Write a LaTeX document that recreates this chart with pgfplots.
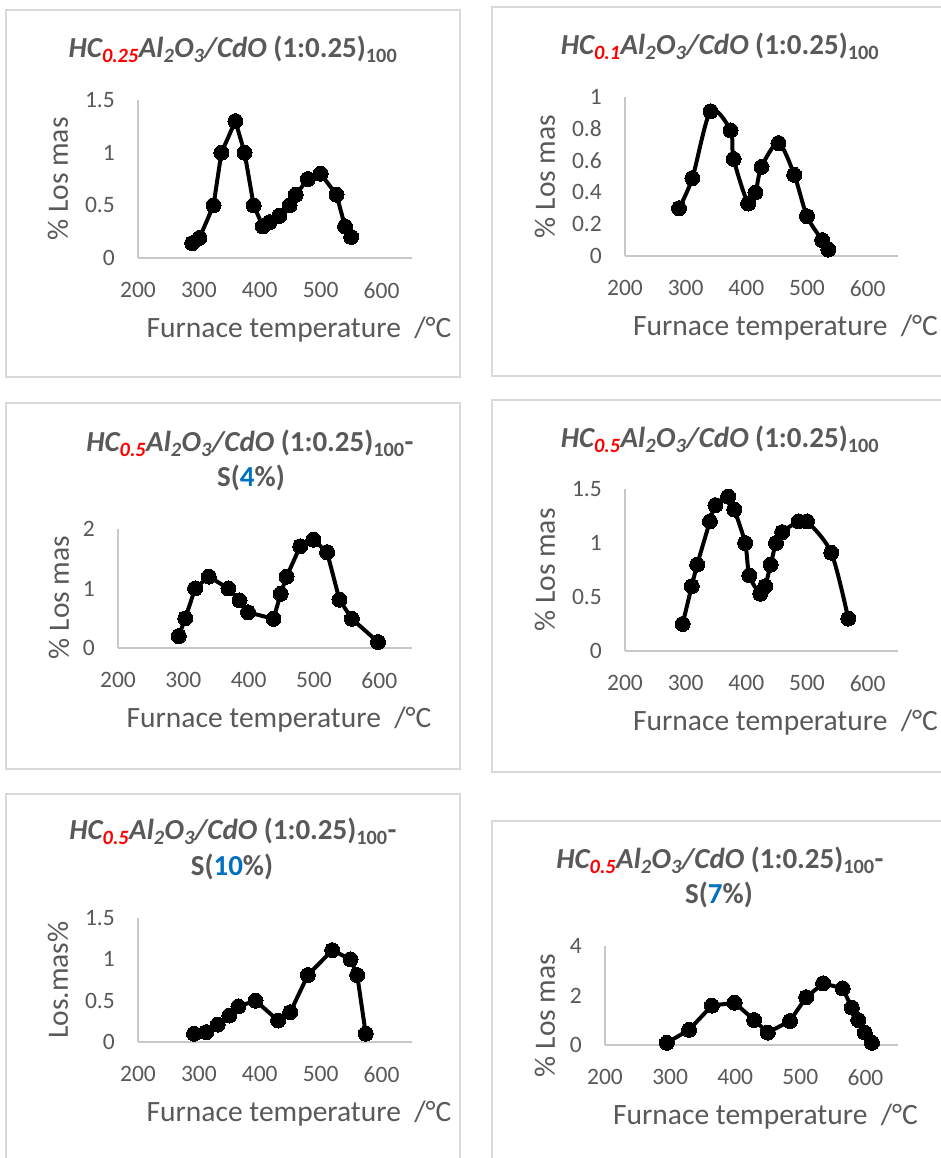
\documentclass[border=0pt]{standalone}
\usepackage{fontspec}
\setmainfont{Carlito}
\usepackage{pgfplots}
\pgfplotsset{compat=1.18}
\definecolor{txt}{HTML}{595959}
\definecolor{axg}{HTML}{C8C8C8}
\definecolor{frm}{HTML}{D9D9D9}
\definecolor{tred}{HTML}{FF0000}
\definecolor{tblue}{HTML}{0070C0}
\newcommand{\ttl}[1]{\textit{HC\textsubscript{\textcolor{tred}{#1}}Al\textsubscript{2}O\textsubscript{3}/CdO }(1:0.25)\textsubscript{100}}
\pgfplotsset{
 panel/.style={
  scale only axis, anchor=south west,
  axis lines*=left,
  axis line style={draw=axg, line width=1.5pt},
  xmin=200, xmax=650, ymin=0,
  xtick={200,300,400,500,600},
  major tick length=0pt,
  /pgf/number format/assume math mode=true,
  /pgf/number format/fixed,
  tick label style={font=\fontsize{23.5}{28}\selectfont, text=txt, inner sep=0pt},
  xticklabel style={anchor=north, yshift=-24pt},
  yticklabel style={anchor=east, xshift=-23pt},
  label style={font=\fontsize{29.5}{35}\selectfont, text=txt},
  xlabel={Furnace temperature\ \ /°C},
  clip=false,
 },
 curve/.style={black, line width=4pt, line join=round, mark=*, mark size=7.5pt, mark options={fill=black, draw=black, line width=0pt}},
}
\begin{document}
\begin{tikzpicture}[x=1pt,y=1pt]
\useasboundingbox (0,0) rectangle (940,1158);
\fill[white] (0,0) rectangle (940,1158);
% frames
\draw[frm, line width=1.5pt] (6,781) rectangle (460,1148);
\draw[frm, line width=1.5pt] (492,782) rectangle (948,1151);
\draw[frm, line width=1.5pt] (6,389) rectangle (460,755);
\draw[frm, line width=1.5pt] (492,386) rectangle (948,758);
\draw[frm, line width=1.5pt] (6,-10) rectangle (460,364);
\draw[frm, line width=1.5pt] (492,-10) rectangle (948,337);
% titles
\tikzset{tt/.style={anchor=base, text=txt, font=\fontsize{29}{35}\selectfont\bfseries, inner sep=0pt}}
\node[tt] at (233,1100) {\ttl{0.25}};
\node[tt] at (720,1103) {\ttl{0.1}};
\node[tt] at (250,706) {\ttl{0.5}-};
\node[tt] at (251,671) {S(\textcolor{tblue}{4}\%)};
\node[tt] at (720,710) {\ttl{0.5}};
\node[tt] at (233,318) {\ttl{0.5}-};
\node[tt] at (232,282) {S(\textcolor{tblue}{10}\%)};
\node[tt] at (720,289) {\ttl{0.5}-};
\node[tt] at (719,254) {S(\textcolor{tblue}{7}\%)};

% Panel 1
\begin{axis}[panel, at={(138pt,900pt)}, width=274pt, height=158pt, ymax=1.5, ytick={0,0.5,1,1.5},
  xlabel style={at={([xshift=24pt,yshift=-80pt]axis description cs:0.5,0)}, anchor=base},
  ylabel={\% Los mas}, ylabel style={at={([xshift=-80pt]axis description cs:0,0.5)}, anchor=center}]
\addplot[curve] coordinates {(289,0.14)(301,0.19)(324,0.5)(337,1.0)(360,1.3)(375,1.0)(390,0.5)(405,0.3)(416,0.34)(432,0.4)(449,0.5)(459,0.6)(479,0.75)(500,0.8)(526,0.6)(540,0.3)(550,0.2)};
\end{axis}

% Panel 2
\begin{axis}[panel, at={(625pt,902pt)}, width=273pt, height=159pt, ymax=1, ytick={0,0.2,0.4,0.6,0.8,1},
  xlabel style={at={([xshift=24pt,yshift=-80pt]axis description cs:0.5,0)}, anchor=base},
  ylabel={\% Los mas}, ylabel style={at={([xshift=-80pt]axis description cs:0,0.5)}, anchor=center}]
\addplot[curve, smooth, tension=0.5] coordinates {(289,0.30)(311,0.49)(341,0.91)(374,0.79)(379,0.61)(403,0.33)(415,0.40)(425,0.56)(453,0.71)(479,0.51)(500,0.25)(525,0.10)(535,0.04)};
\end{axis}

% Panel 3
\begin{axis}[panel, at={(118pt,510pt)}, width=294pt, height=119pt, ymax=2, ytick={0,1,2},
  xlabel style={at={([xshift=14pt,yshift=-80pt]axis description cs:0.5,0)}, anchor=base},
  ylabel={\% Los mas}, ylabel style={at={([xshift=-59pt,yshift=-9pt]axis description cs:0,0.5)}, anchor=center}]
\addplot[curve] coordinates {(293,0.2)(303,0.5)(318,1.0)(339,1.2)(369,1.0)(386,0.8)(399,0.6)(438,0.49)(449,0.91)(458,1.2)(479,1.71)(499,1.82)(520,1.61)(539,0.81)(558,0.49)(598,0.1)};
\end{axis}

% Panel 4
\begin{axis}[panel, at={(625pt,507pt)}, width=273pt, height=162pt, ymax=1.5, ytick={0,0.5,1,1.5},
  xlabel style={at={([xshift=24pt,yshift=-80pt]axis description cs:0.5,0)}, anchor=base},
  ylabel={\% Los mas}, ylabel style={at={([xshift=-80pt]axis description cs:0,0.5)}, anchor=center}]
\addplot[curve, smooth, tension=0.5] coordinates {(295,0.25)(310,0.6)(319,0.8)(340,1.2)(349,1.35)(370,1.43)(380,1.31)(398,1.0)(405,0.7)(423,0.53)(431,0.6)(440,0.8)(449,1.0)(459,1.1)(486,1.2)(500,1.2)(540,0.91)(568,0.3)};
\end{axis}

% Panel 5
\begin{axis}[panel, at={(138pt,116pt)}, width=274pt, height=124pt, ymax=1.5, ytick={0,0.5,1,1.5},
  xlabel style={at={([xshift=24pt,yshift=-80pt]axis description cs:0.5,0)}, anchor=base},
  ylabel={Los.mas\%}, ylabel style={at={([xshift=-80pt]axis description cs:0,0.5)}, anchor=center}]
\addplot[curve] coordinates {(292,0.10)(312,0.12)(331,0.21)(350,0.32)(365,0.43)(393,0.50)(430,0.26)(450,0.36)(479,0.81)(519,1.11)(549,1.0)(560,0.81)(574,0.1)};
\end{axis}

% Panel 6
\begin{axis}[panel, at={(605pt,113pt)}, width=293pt, height=99pt, ymax=4, ytick={0,2,4},
  xlabel style={at={([xshift=14pt,yshift=-80pt]axis description cs:0.5,0)}, anchor=base},
  ylabel={\% Los mas}, ylabel style={at={([xshift=-60pt,yshift=-20pt]axis description cs:0,0.5)}, anchor=center}]
\addplot[curve] coordinates {(295,0.09)(329,0.61)(364,1.59)(399,1.71)(429,1.01)(450,0.50)(484,0.97)(509,1.93)(535,2.49)(565,2.29)(579,1.51)(589,1.01)(599,0.50)(610,0.09)};
\end{axis}
\end{tikzpicture}
\end{document}
